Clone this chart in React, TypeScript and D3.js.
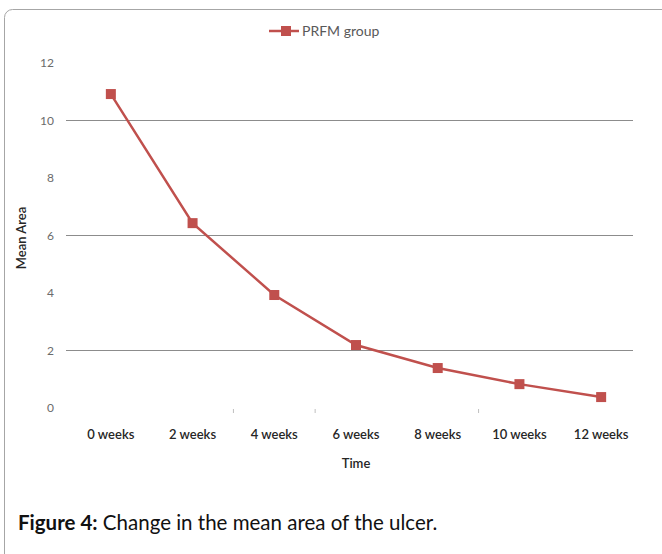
import React, { useEffect, useRef } from 'react';
import * as d3 from 'd3';

const categories = ['0 weeks', '2 weeks', '4 weeks', '6 weeks', '8 weeks', '10 weeks', '12 weeks'];
const meanArea = [10.92, 6.43, 3.93, 2.19, 1.39, 0.83, 0.38];
const yTicks = [0, 2, 4, 6, 8, 10, 12];
const gridValues = [2, 6, 10];
const seriesName = 'PRFM group';

const FONT = 'Lato, "Open Sans", sans-serif';
const RED = '#C0504D';

const App: React.FC = () => {
  const svgRef = useRef<SVGSVGElement>(null);

  useEffect(() => {
    const svg = d3.select(svgRef.current);
    svg.selectAll('*').remove();

    // outer frame
    svg.append('rect')
      .attr('x', 4.5).attr('y', 9.5)
      .attr('width', 700).attr('height', 600)
      .attr('rx', 8)
      .attr('fill', '#fff')
      .attr('stroke', '#a6a6a6');

    const x = d3.scaleBand<string>().domain(categories).range([70, 642]);
    const y = d3.scaleLinear().domain([0, 12]).range([408, 63]);

    // gridlines
    svg.append('g').selectAll('line')
      .data(gridValues)
      .enter().append('line')
      .attr('x1', 66).attr('x2', 633)
      .attr('y1', d => y(d)).attr('y2', d => y(d))
      .attr('stroke', '#8c8c8c').attr('stroke-width', 1);

    // category boundary ticks (only some visible in the source)
    const tickIdx = [2, 3, 5];
    svg.append('g').selectAll('line')
      .data(tickIdx)
      .enter().append('line')
      .attr('x1', i => (x(categories[i]) as number))
      .attr('x2', i => (x(categories[i]) as number))
      .attr('y1', 409).attr('y2', 413)
      .attr('stroke', '#bfbfbf');

    // y labels
    svg.append('g').selectAll('text')
      .data(yTicks)
      .enter().append('text')
      .attr('x', 54).attr('y', d => y(d) + 4)
      .attr('text-anchor', 'end')
      .attr('font-family', FONT).attr('font-size', 12)
      .attr('fill', '#6b6b6b')
      .text(d => d);

    // x labels
    svg.append('g').selectAll('text')
      .data(categories)
      .enter().append('text')
      .attr('x', d => (x(d) as number) + x.bandwidth() / 2)
      .attr('y', 439)
      .attr('text-anchor', 'middle')
      .attr('font-family', FONT).attr('font-size', 13)
      .attr('font-weight', 600)
      .attr('fill', '#262626')
      .text(d => d);

    svg.append('text')
      .attr('x', 356).attr('y', 468)
      .attr('text-anchor', 'middle')
      .attr('font-family', FONT).attr('font-size', 13).attr('font-weight', 600)
      .attr('fill', '#262626')
      .text('Time');

    svg.append('text')
      .attr('transform', 'translate(26,238) rotate(-90)')
      .attr('text-anchor', 'middle')
      .attr('font-family', FONT).attr('font-size', 13).attr('font-weight', 600)
      .attr('fill', '#262626')
      .text('Mean Area');

    // series
    const cx = (i: number) => (x(categories[i]) as number) + x.bandwidth() / 2;
    const line = d3.line<number>()
      .x((_, i) => cx(i))
      .y(d => y(d));

    svg.append('path')
      .datum(meanArea)
      .attr('d', line)
      .attr('fill', 'none')
      .attr('stroke', RED)
      .attr('stroke-width', 2.5);

    svg.append('g').selectAll('rect')
      .data(meanArea)
      .enter().append('rect')
      .attr('x', (_, i) => cx(i) - 5)
      .attr('y', d => y(d) - 5)
      .attr('width', 10).attr('height', 10)
      .attr('fill', RED);

    // legend
    const lg = svg.append('g');
    lg.append('line')
      .attr('x1', 269).attr('x2', 299).attr('y1', 31).attr('y2', 31)
      .attr('stroke', RED).attr('stroke-width', 2.5);
    lg.append('rect')
      .attr('x', 281).attr('y', 26).attr('width', 10).attr('height', 10)
      .attr('fill', RED);
    lg.append('text')
      .attr('x', 302).attr('y', 36)
      .attr('font-family', FONT).attr('font-size', 14)
      .attr('fill', '#595959')
      .text(seriesName);

    // caption
    const cap = svg.append('text')
      .attr('x', 18).attr('y', 530)
      .attr('font-family', FONT).attr('font-size', 20.5)
      .attr('fill', '#111');
    cap.append('tspan').attr('font-weight', 700).text('Figure 4:');
    cap.append('tspan').text(' Change in the mean area of the ulcer.');
  }, []);

  return (
    <svg ref={svgRef} width={662} height={554}
      style={{ position: 'absolute', left: 0, top: 0, display: 'block' }} />
  );
};

export default App;
